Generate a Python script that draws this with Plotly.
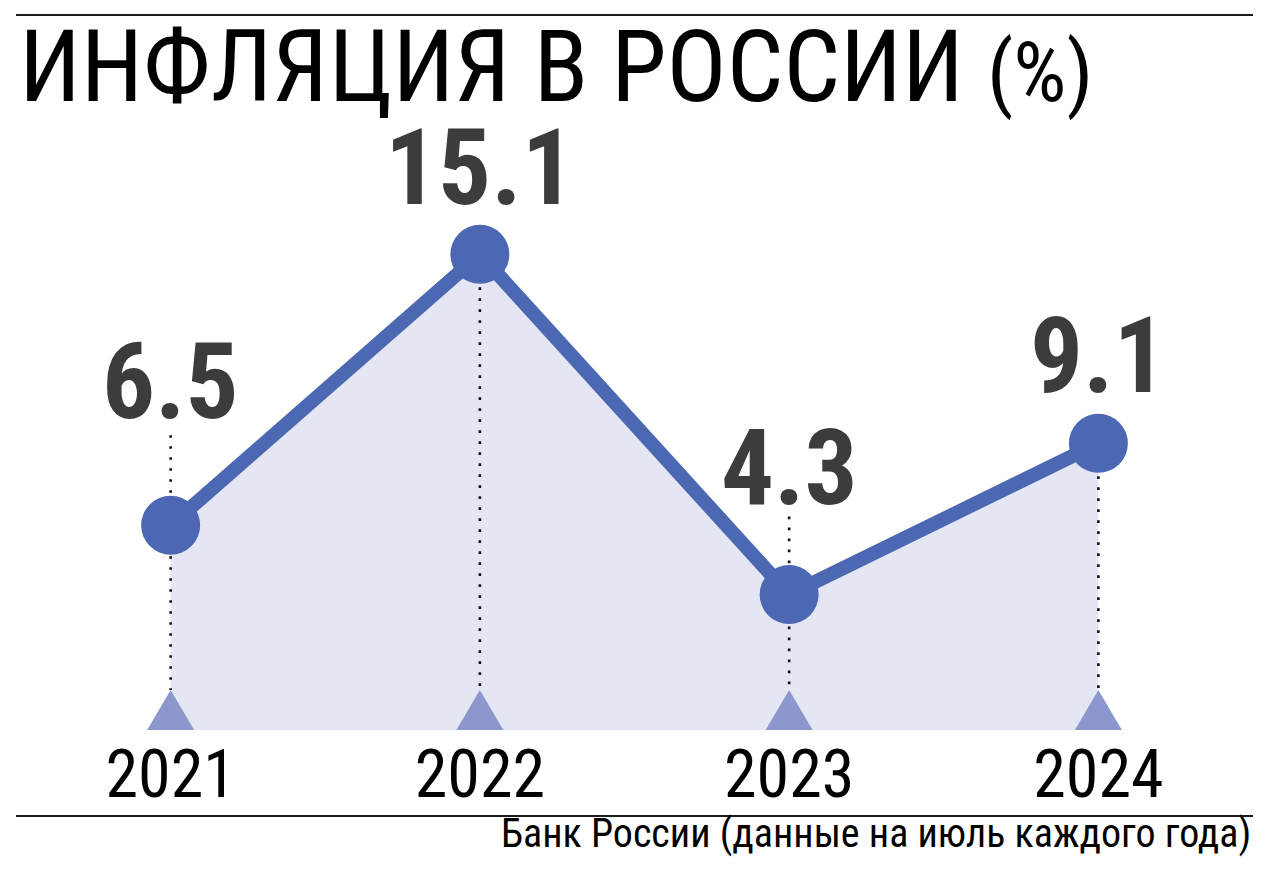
import plotly.graph_objects as go

# ---- data ----
years = ["2021", "2022", "2023", "2024"]
inflation = [6.5, 15.1, 4.3, 9.1]
value_labels = ["6.5", "15.1", "4.3", "9.1"]

title_text = "ИНФЛЯЦИЯ В РОССИИ"
unit_text = "(%)"
source_text = "Банк России (данные на июль каждого года)"

# ---- styles / layout ----
FONT = "Roboto Condensed, Liberation Sans, sans-serif"
LINE_C = "#4d68b3"
FILL_C = "#e5e6f3"
TRI_C = "#8c98cd"
LABEL_C = "#3c3c3c"

W, H = 1274, 878
OFF = 8  # page body margin of the browser
M_L, M_R = 16 - OFF, W - (1253 - OFF)
M_T, M_B = 100 - OFF, H - (730 - OFF)
Y_MAX = 20.0
plot_h = H - M_T - M_B
px_per_unit = plot_h / Y_MAX
plot_bottom = H - M_B


def paper_y(px):
    """figure pixel (from top) -> paper coordinate"""
    return (plot_bottom - px) / plot_h


label_gap_px = [107, 50, 91, 51]      # label baseline distance above point
dot_extend_px = [90, 0, 78, 0]        # dotted guide extension above point
TRI_W, TRI_H = 47, 40

xi = list(range(len(years)))

fig = go.Figure()

# filled area
fig.add_trace(go.Scatter(x=xi, y=inflation, mode="lines", line=dict(width=0, color=FILL_C),
                         fill="tozeroy", fillcolor=FILL_C, hoverinfo="skip", showlegend=False))

# dotted guides
for i, v in enumerate(inflation):
    top = v + dot_extend_px[i] / px_per_unit
    bottom = TRI_H / px_per_unit
    fig.add_trace(go.Scatter(x=[i, i], y=[top, bottom], mode="lines",
                             line=dict(color="#111111", width=2.6, dash="2.6px,8.4px"),
                             hoverinfo="skip", showlegend=False))

# main line + markers
fig.add_trace(go.Scatter(x=xi, y=inflation, mode="lines+markers",
                         line=dict(color=LINE_C, width=14),
                         marker=dict(size=59, color=LINE_C, line=dict(width=0)),
                         showlegend=False))

# value labels
for i, v in enumerate(inflation):
    fig.add_annotation(x=i, y=v, xref="x", yref="y", text=value_labels[i], showarrow=False,
                       xanchor="center", yanchor="bottom", yshift=label_gap_px[i] - 28,
                       font=dict(family=FONT, size=105, color=LABEL_C, weight="bold"))

# triangles at the baseline
for i in xi:
    fig.add_shape(type="path", xref="x", yref="y", xsizemode="pixel", ysizemode="pixel",
                  xanchor=i, yanchor=0,
                  path=f"M{-TRI_W/2},0 L{TRI_W/2},0 L0,{TRI_H} Z",
                  fillcolor=TRI_C, line=dict(width=0), layer="above")

# rules
for yy in (paper_y(15 - OFF), paper_y(816 - OFF)):
    fig.add_shape(type="line", xref="paper", yref="paper", x0=0, x1=1, y0=yy, y1=yy,
                  line=dict(color="#1a1a1a", width=2))

# title
fig.add_annotation(xref="paper", yref="paper", x=(23 - 16) / (W - M_L - M_R) - 0.004,
                   y=paper_y(7 - OFF), xanchor="left", yanchor="top", showarrow=False,
                   borderpad=0,
                   text=f"{title_text} <span style='font-size:84px'>{unit_text}</span>",
                   font=dict(family=FONT, size=100, color="#000000"))

# source
fig.add_annotation(xref="paper", yref="paper", x=1, y=paper_y(808 - OFF),
                   xanchor="right", yanchor="top", showarrow=False, text=source_text,
                   font=dict(family=FONT, size=40, color="#000000"))

fig.update_layout(
    width=W, height=H, margin=dict(l=M_L, r=M_R, t=M_T, b=M_B),
    paper_bgcolor="white", plot_bgcolor="white",
    xaxis=dict(range=[-0.5, len(years) - 0.5], tickmode="array", tickvals=xi, ticktext=years,
               showgrid=False, zeroline=False, showline=False, ticks="", automargin=False,
               tickfont=dict(family=FONT, size=66, color="#000000")),
    yaxis=dict(range=[0, Y_MAX], visible=False, showgrid=False, zeroline=False),
)

fig.write_html("out.html")
